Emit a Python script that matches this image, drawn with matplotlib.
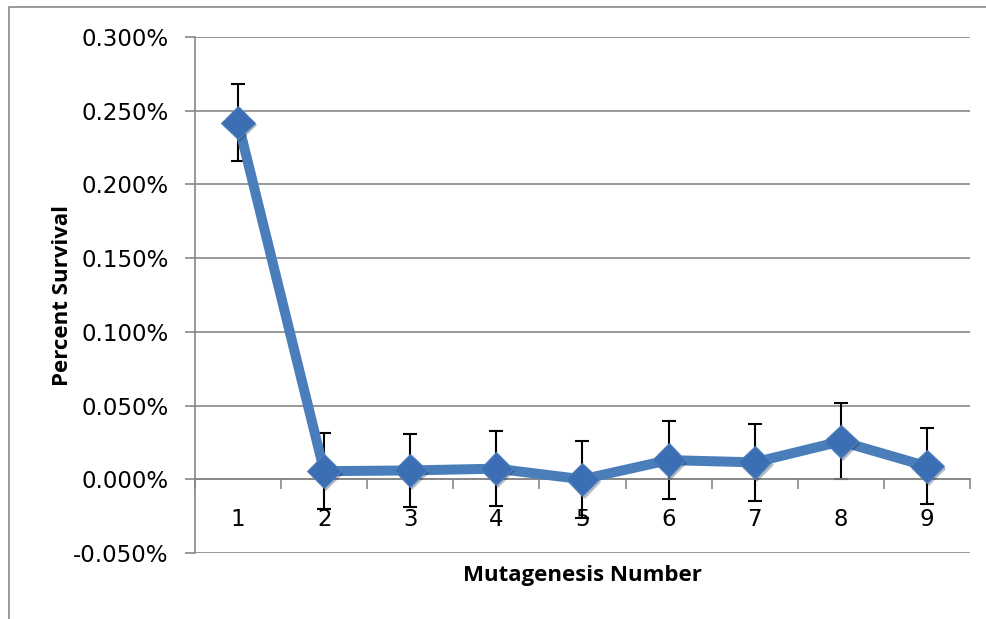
import matplotlib
matplotlib.use("Agg")
import matplotlib.pyplot as plt
import matplotlib.patheffects as pe
from matplotlib.patches import Rectangle
from matplotlib.ticker import FuncFormatter, FixedLocator

plt.rcParams["font.family"] = ["DejaVu Sans"]
label_font = ["Open Sans", "DejaVu Sans"]

# data (values in percent)
mutagenesis = [1, 2, 3, 4, 5, 6, 7, 8, 9]
survival = [0.242, 0.0055, 0.006, 0.0072, 0.0, 0.013, 0.0115, 0.0257, 0.0088]
errors = [0.026, 0.0257, 0.025, 0.0253, 0.0262, 0.0262, 0.026, 0.0258, 0.0258]
y_ticks = [-0.05, 0.0, 0.05, 0.10, 0.15, 0.20, 0.25, 0.30]

grey = "#878787"
blue_line = "#4a7ebb"
blue_mark = "#3c6eb4"

fig = plt.figure(figsize=(9.87, 6.19), dpi=100)
fig.patches.append(Rectangle((9 / 987, -0.01), 1.0, 1 - 7 / 619 + 0.01,
                             transform=fig.transFigure, fill=False,
                             edgecolor=grey, linewidth=1.2))
ax = fig.add_axes([195 / 987, 1 - 553 / 619, 775 / 987, 516 / 619])

ax.errorbar(mutagenesis, survival, yerr=errors, fmt="none", ecolor="black",
            elinewidth=1.5, capsize=5, capthick=1.5, zorder=2)
ax.plot(mutagenesis, survival, color=blue_line, linewidth=7.2, zorder=3,
        solid_joinstyle="miter")
ax.plot(mutagenesis, survival, linestyle="none", marker="D", markersize=17,
        markerfacecolor=blue_mark, markeredgecolor="#4f81bd", markeredgewidth=0.8,
        zorder=4,
        path_effects=[pe.SimplePatchShadow(offset=(1.5, -2), alpha=0.3), pe.Normal()])

ax.set_xlim(0.5, 9.5)
ax.set_ylim(-0.05, 0.30)
ax.yaxis.set_major_locator(FixedLocator(y_ticks))
ax.yaxis.set_major_formatter(FuncFormatter(lambda v, p: f"{v:.3f}%"))
ax.grid(axis="y", color=grey, linewidth=1.2)
ax.set_axisbelow(True)

# category axis crossing at zero
ax.spines["bottom"].set_position(("data", 0))
ax.spines["bottom"].set_color(grey)
ax.spines["bottom"].set_linewidth(1.2)
ax.spines["left"].set_color(grey)
ax.spines["left"].set_linewidth(1.2)
ax.spines["top"].set_visible(False)
ax.spines["right"].set_visible(False)

ax.set_xticks([x + 0.5 for x in [0] + mutagenesis])
ax.set_xticklabels([])
ax.set_xticks(mutagenesis, minor=True)
ax.set_xticklabels([str(m) for m in mutagenesis], minor=True)
ax.tick_params(axis="x", which="major", length=7, color=grey, width=1.2, direction="out")
ax.tick_params(axis="x", which="minor", length=0, pad=21, labelsize=16.5)
ax.tick_params(axis="y", length=7, color=grey, width=1.2, labelsize=16.5, pad=12)

ax.set_ylabel("Percent Survival", fontsize=16, fontweight="bold", labelpad=0,
              family=label_font)
fig.text(582 / 987, 1 - 576 / 619, "Mutagenesis Number", fontsize=16,
         fontweight="bold", ha="center", va="center", family=label_font)

fig.savefig("out.png", dpi=100)
